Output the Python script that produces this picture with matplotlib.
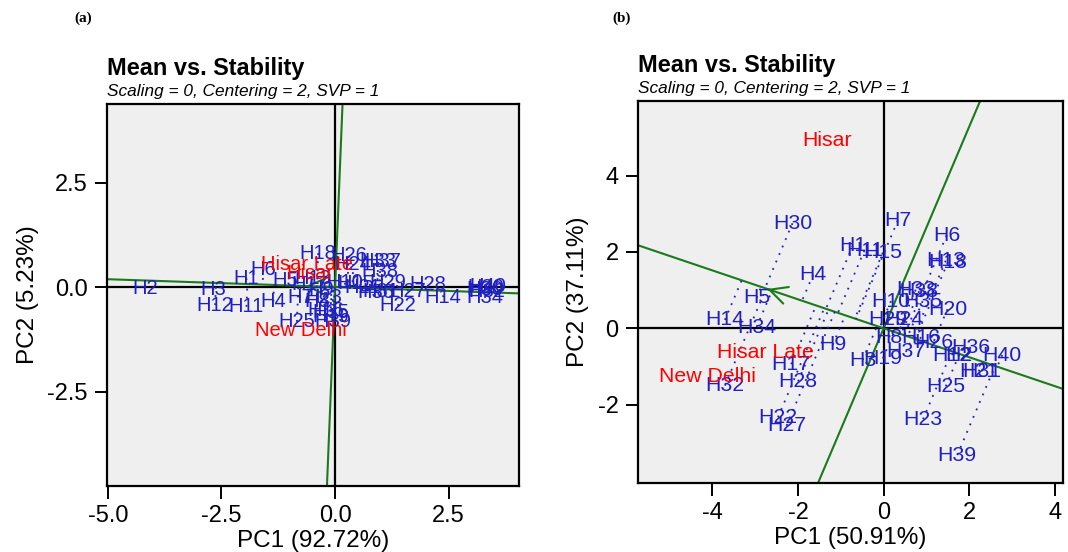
import numpy as np
import matplotlib
matplotlib.use("Agg")
import matplotlib.pyplot as plt

# genotype labels
genos = ["H%d" % i for i in range(1, 41)]

# panel (a) genotype scores (PC1, PC2)
a_pc1 = [-1.95, -4.19, -2.68, -1.36, -1.10, -1.58, -0.77, -0.40, -0.30, 0.22,
         -1.95, -2.64, -0.50, 2.38, 0.45, -0.20, -0.55, -0.37, -0.10, 3.32,
         0.60, 1.39, -0.25, 0.40, -0.84, 0.30, 1.60, 2.05, 1.17, 3.30,
         1.00, 3.35, 0.95, 3.30, -0.10, 0.90, 1.05, 0.99, -0.04, 3.36]
a_pc2 = [0.21, -0.03, -0.07, -0.35, 0.15, 0.41, -0.24, -0.35, -0.05, 0.10,
         -0.47, -0.43, 0.20, -0.24, 0.08, -0.55, 0.05, 0.81, -0.70, 0.00,
         0.00, -0.45, -0.25, 0.55, -0.83, 0.75, -0.10, 0.05, 0.10, -0.05,
         -0.10, -0.10, 0.60, -0.26, -0.60, -0.12, 0.60, 0.38, -0.83, 0.02]

# panel (b) genotype scores (PC1, PC2)
b_pc1 = [-0.72, 1.76, -0.49, -1.65, -2.97, 1.47, 0.33, 0.13, -1.19, 0.17,
         -0.45, 1.60, 1.45, -3.71, -0.02, 0.87, -2.16, 1.50, -0.02, 1.49,
         2.22, -2.47, 0.92, 0.48, 1.45, 1.18, -2.27, -2.00, 0.09, -2.13,
         2.30, -3.71, 0.75, -2.97, 0.91, 2.03, 0.52, 0.83, 1.72, 2.77]
b_pc2 = [2.17, -0.70, -0.83, 1.40, 0.80, 2.43, 2.82, -0.23, -0.43, 0.71,
         2.04, -0.70, 1.77, 0.22, 1.98, -0.23, -0.94, 1.73, -0.79, 0.50,
         -1.13, -2.33, -2.38, 0.24, -1.52, -0.36, -2.55, -1.39, 0.24, 2.75,
         -1.12, -1.50, 1.01, 0.03, 0.71, -0.49, -0.62, 0.97, -3.32, -0.70]

# environments
envs = ["Hisar", "Hisar Late", "New Delhi"]
a_env_pc1 = [-0.55, -0.62, -0.75]
a_env_pc2 = [0.33, 0.55, -1.05]
b_env_pc1 = [-1.33, -2.77, -4.12]
b_env_pc2 = [4.91, -0.63, -1.25]

# average environment coordinate (arrow tip)
a_aec = [-0.64, 0.024]
b_aec = [-2.72, 1.03]

blue = "#1f1fc4"
green = "#1b7a1b"
plt.rcParams["font.family"] = ["Liberation Sans", "DejaVu Sans"]

fig = plt.figure(figsize=(10.68, 5.52), dpi=100)


def biplot(rect, gx, gy, ex, ey, aec, xlim, ylim, xticks, yticks, fmt,
           xlabel, ylabel, tag, tagx, lab_size):
    ax = fig.add_axes(rect)
    ax.set_facecolor("#efefef")
    ax.set_xlim(xlim)
    ax.set_ylim(ylim)
    ax.axhline(0, color="black", lw=1.6, zorder=1)
    ax.axvline(0, color="black", lw=1.6, zorder=1)

    # average environment axis and its perpendicular
    d = np.array(aec) / np.hypot(*aec)
    ax.axline((0, 0), (d[0], d[1]), color=green, lw=1.5, zorder=2)
    ax.axline((0, 0), (-d[1], d[0]), color=green, lw=1.5, zorder=2)
    ax.annotate("", xy=aec, xytext=(aec[0] - d[0] * 0.05, aec[1] - d[1] * 0.05),
                arrowprops=dict(arrowstyle="->,head_length=0.9,head_width=0.45",
                                color=green, lw=1.5, shrinkA=0, shrinkB=0,
                                mutation_scale=14), zorder=3)

    # projections of genotypes onto the AEC abscissa
    for x, y in zip(gx, gy):
        t = x * d[0] + y * d[1]
        ax.plot([x, t * d[0]], [y, t * d[1]], color=blue, lw=1.3,
                linestyle=(0, (1, 3.5)), zorder=3)

    for name, x, y in zip(genos, gx, gy):
        ax.text(x, y, name, color=blue, fontsize=lab_size, ha="center",
                va="center", zorder=4)
    for name, x, y in zip(envs, ex, ey):
        ax.text(x, y, name, color="red", fontsize=lab_size, ha="center",
                va="center", zorder=4)

    ax.set_xticks(xticks)
    ax.set_yticks(yticks)
    ax.set_xticklabels([fmt % v for v in xticks], fontsize=17)
    ax.set_yticklabels([fmt % v for v in yticks], fontsize=17)
    ax.tick_params(length=9, width=1.4, direction="out", pad=5)
    for s in ax.spines.values():
        s.set_linewidth(1.6)
    ax.set_xlabel(xlabel, fontsize=17.5, labelpad=1.5)
    ax.set_ylabel(ylabel, fontsize=17.5, labelpad=6)

    x0 = rect[0]
    top = rect[1] + rect[3]
    fig.text(x0, top + 0.053, "Mean vs. Stability", fontsize=16.9,
             fontweight="bold", ha="left", va="baseline")
    fig.text(x0, top + 0.0145, "Scaling = 0, Centering = 2, SVP = 1",
             fontsize=12.4, style="italic", ha="left", va="baseline")
    fig.text(tagx, 0.967, tag, fontfamily="Liberation Serif", fontweight="bold",
             fontsize=11, ha="left", va="center")
    return ax


biplot([0.1002, 0.1196, 0.3858, 0.692], a_pc1, a_pc2, a_env_pc1, a_env_pc2,
       a_aec, (-5.02, 4.05), (-4.76, 4.38), [-5.0, -2.5, 0.0, 2.5],
       [-2.5, 0.0, 2.5], "%.1f", "PC1 (92.72%)", "PC2 (5.23%)", "(a)", 0.070,
       14.5)
biplot([0.5974, 0.125, 0.3979, 0.692], b_pc1, b_pc2, b_env_pc1, b_env_pc2,
       b_aec, (-5.74, 4.19), (-4.05, 5.95), [-4, -2, 0, 2, 4],
       [-2, 0, 2, 4], "%d", "PC1 (50.91%)", "PC2 (37.11%)", "(b)", 0.573,
       15.3)

fig.savefig("out.png", dpi=100)
